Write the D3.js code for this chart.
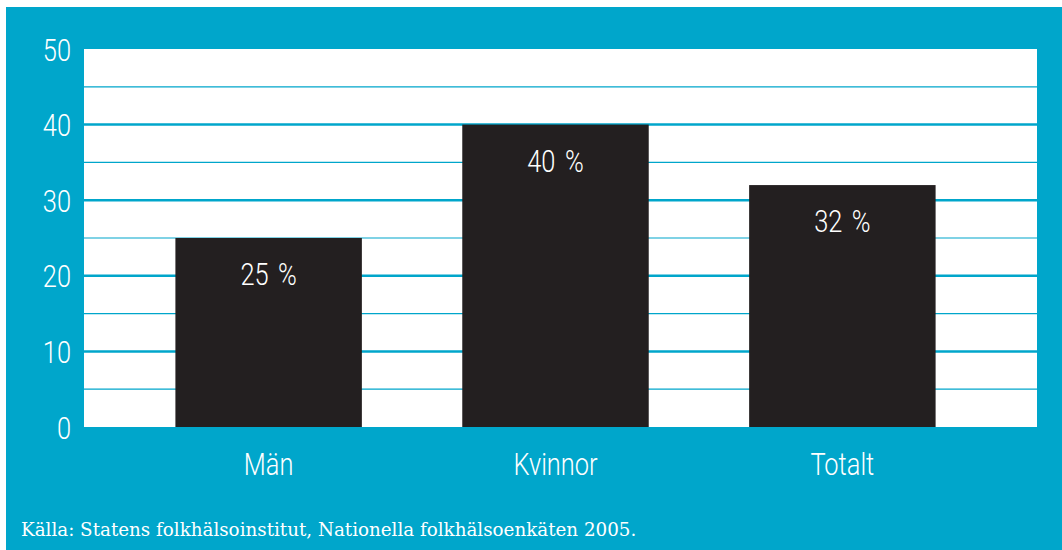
<!DOCTYPE html>
<html>
<head>
<meta charset="utf-8">
<script src="https://cdn.jsdelivr.net/npm/d3@7"></script>
<style>
  html, body { margin: 0; padding: 0; background: #ffffff; }
  svg { display: block; }
</style>
</head>
<body>
<svg id="chart" width="1062" height="550"></svg>
<script>
// data
const categories = ["Män", "Kvinnor", "Totalt"];
const values = [25, 40, 32];
const valueLabels = ["25 %", "40 %", "32 %"];
const majorTicks = [0, 10, 20, 30, 40, 50];
const minorLines = [5, 15, 25, 35, 45];
const gridMajor = [10, 20, 30, 40];
const sourceText = "Källa: Statens folkhälsoinstitut, Nationella folkhälsoenkäten 2005.";

const blue = "#00a6cb";
const barColor = "#231f20";
const thinFont = "Roboto, 'Liberation Sans', sans-serif";
const squeezeX = 0.82; // smal rubrikstil, som i originalet

const svg = d3.select("#chart");

// trycker ihop texten horisontellt kring sin egen x-position
function squeeze(sel) {
    sel.each(function() {
        const t = d3.select(this);
        const x = +t.attr("x") || 0;
        t.attr("transform", `translate(${x},0) scale(${squeezeX},1) translate(${-x},0)`);
    });
}

// blå bakgrund
svg.append("rect")
    .attr("x", 6).attr("y", 7)
    .attr("width", 1056).attr("height", 543)
    .attr("fill", blue);

const plot = { left: 84, right: 1037, top: 49, bottom: 427 };

// vit plotyta
svg.append("rect")
    .attr("x", plot.left).attr("y", plot.top)
    .attr("width", plot.right - plot.left)
    .attr("height", plot.bottom - plot.top)
    .attr("fill", "#ffffff");

const yScale = d3.scaleLinear()
    .domain([0, 50])
    .range([plot.bottom, plot.top]);

const xScale = d3.scaleBand()
    .domain(categories)
    .range([75, 1036])
    .paddingInner(0.35)
    .paddingOuter(0.35);

// stödlinjer
svg.selectAll(".minor")
    .data(minorLines)
    .enter().append("line")
    .attr("class", "minor")
    .attr("x1", plot.left).attr("x2", plot.right)
    .attr("y1", d => yScale(d)).attr("y2", d => yScale(d))
    .attr("stroke", blue)
    .attr("stroke-width", 1.2);

svg.selectAll(".major")
    .data(gridMajor)
    .enter().append("line")
    .attr("class", "major")
    .attr("x1", plot.left).attr("x2", plot.right)
    .attr("y1", d => yScale(d)).attr("y2", d => yScale(d))
    .attr("stroke", blue)
    .attr("stroke-width", 2.5);

// staplar
svg.selectAll(".bar")
    .data(values)
    .enter().append("rect")
    .attr("class", "bar")
    .attr("x", (d, i) => xScale(categories[i]))
    .attr("y", d => yScale(d))
    .attr("width", xScale.bandwidth())
    .attr("height", d => plot.bottom - yScale(d))
    .attr("fill", barColor);

// värdeetiketter
svg.selectAll(".val")
    .data(values)
    .enter().append("text")
    .attr("class", "val")
    .attr("x", (d, i) => xScale(categories[i]) + xScale.bandwidth() / 2)
    .attr("y", d => yScale(d) + 47)
    .attr("text-anchor", "middle")
    .attr("fill", "#ffffff")
    .style("font-family", thinFont)
    .style("font-weight", 300)
    .style("font-size", "31px")
    .style("word-spacing", "4px")
    .text((d, i) => valueLabels[i])
    .call(squeeze);

// y-axel
const yAxis = svg.append("g")
    .attr("transform", `translate(${plot.left},0)`)
    .call(d3.axisLeft(yScale).tickValues(majorTicks).tickSize(0).tickPadding(13));
yAxis.select(".domain").remove();
yAxis.selectAll("text")
    .attr("fill", "#ffffff")
    .attr("dy", "11px")
    .style("font-family", thinFont)
    .style("font-weight", 300)
    .style("font-size", "31px")
    .call(squeeze);

// x-axel
const xAxis = svg.append("g")
    .attr("transform", `translate(0,${plot.bottom})`)
    .call(d3.axisBottom(xScale).tickSize(0).tickPadding(0));
xAxis.select(".domain").remove();
xAxis.selectAll("text")
    .attr("fill", "#ffffff")
    .attr("y", 48)
    .attr("dy", 0)
    .style("font-family", thinFont)
    .style("font-weight", 300)
    .style("font-size", "31px")
    .call(squeeze);

// källa
svg.append("text")
    .attr("x", 21)
    .attr("y", 536)
    .attr("fill", "#ffffff")
    .style("font-family", "'DejaVu Serif', 'Liberation Serif', serif")
    .style("font-size", "18.3px")
    .text(sourceText);
</script>
</body>
</html>
